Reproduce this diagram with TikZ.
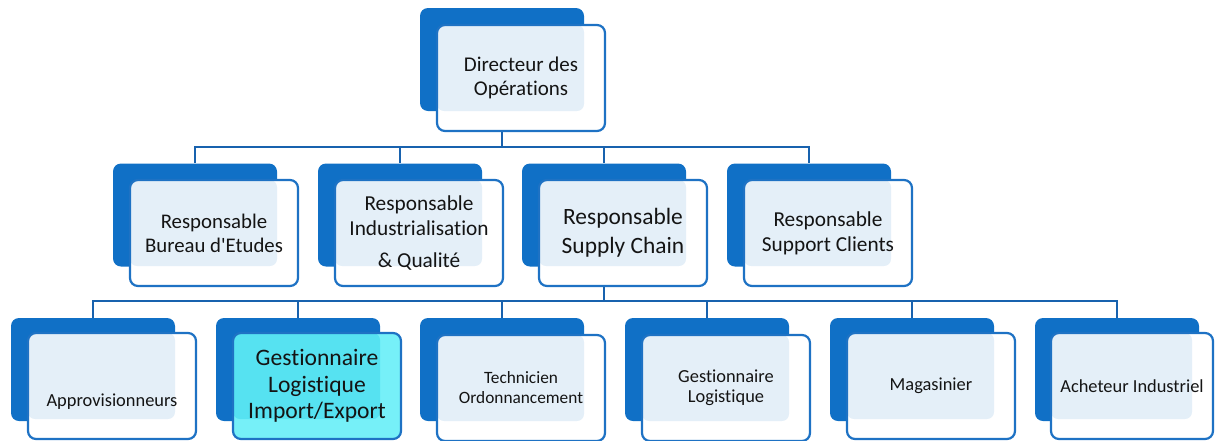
\documentclass[tikz,border=0pt]{standalone}
\usepackage{fontspec}
\setmainfont{Carlito}[Ligatures={NoCommon,NoContextual}]
\usetikzlibrary{positioning, calc}
\definecolor{orgblue}{RGB}{16,112,198}
\definecolor{edgeblue}{RGB}{30,114,196}
\definecolor{linkblue}{RGB}{24,98,174}
\definecolor{cyanin}{RGB}{86,226,241}
\definecolor{cyanout}{RGB}{118,240,248}
\pgfdeclarelayer{bg}
\pgfsetlayers{bg,main}

\begin{document}
\begin{tikzpicture}[
    x=1pt, y=-1pt,
    every node/.style={text=black!92},
    back/.style={fill=orgblue, rounded corners=8pt, minimum width=164pt, minimum height=103pt, inner sep=0pt},
    softfill/.style={fill=orgblue, fill opacity=0.11},
    frame/.style={draw=edgeblue, line width=2.2pt, fill=white, rounded corners=8pt,
        minimum width=168pt, minimum height=106pt, inner sep=0pt, align=center,
        path picture={\fill[softfill, rounded corners=7pt] (path picture bounding box.north west)
            rectangle ([shift={(-21pt,20pt)}]path picture bounding box.south east);}},
    link/.style={draw=linkblue, line width=2.5pt},
]
\useasboundingbox (0,0) rectangle (1215,440);

% ============================================================
% LEVEL 1: direction
% ============================================================
\node[back] (dir) at (502,59.5) {};
\node[frame, font=\fontsize{21}{24}\selectfont] (dirF) at (521,78) {Directeur des\\Opérations};

% ============================================================
% LEVEL 2: responsables
% ============================================================
\node[back] (bur) at (195,215) {};
\node[frame, font=\fontsize{20.8}{24}\selectfont] (burF) at (214,233) {Responsable\\Bureau d\textquotesingle Etudes};

\node[back] (ind) at (400,215) {};
\node[frame, font=\fontsize{21.3}{25}\selectfont] (indF) at (419,233) {Responsable\\Industrialisation\\[7pt]\& Qualité};

\node[back] (sup) at (604,215) {};
\node[frame, font=\fontsize{23.4}{29}\selectfont] (supF) at (623,233) {Responsable\\Supply Chain};

\node[back] (cli) at (809,215) {};
\node[frame, font=\fontsize{21.3}{25}\selectfont] (cliF) at (828,233) {Responsable\\Support Clients};

% ============================================================
% LEVEL 3: supply chain team
% ============================================================
\node[back] (apr) at (93,369.5) {};
\node[frame, font=\fontsize{18.4}{20}\selectfont, text height=44pt, text depth=4pt] (aprF) at (112,386) {Approvisionneurs};

% highlighted position
\node[back] (imp) at (298,369.5) {};
\node[frame, fill=cyanout, softfill/.style={fill=cyanin}, font=\fontsize{23.6}{26.5}\selectfont] (impF) at (317,386) {Gestionnaire\\Logistique\\Import/Export};

\node[back] (tec) at (502,369.5) {};
\node[frame, font=\fontsize{17.3}{20}\selectfont] (tecF) at (521,388) {Technicien\\Ordonnancement};

\node[back] (ges) at (707,369.5) {};
\node[frame, font=\fontsize{18.4}{20}\selectfont] (gesF) at (726,388) {Gestionnaire\\Logistique};

\node[back] (mag) at (912,369.5) {};
\node[frame, font=\fontsize{18.4}{20}\selectfont] (magF) at (931,386) {Magasinier};

\node[back] (ach) at (1117,369.5) {};
\node[frame, minimum width=162pt, font=\fontsize{18.4}{20}\selectfont] (achF) at (1132,386) {Acheteur Industriel};

% ============================================================
% Connectors (behind the boxes)
% ============================================================
\begin{pgfonlayer}{bg}
\coordinate (barA) at (502,147);
\foreach \c in {bur,ind,sup,cli}
    \draw[link] (dir.south) |- (barA) -| (\c.north);
\coordinate (barB) at (604,301);
\foreach \c in {apr,imp,tec,ges,mag,ach}
    \draw[link] (sup.south) |- (barB) -| (\c.north);
\end{pgfonlayer}

\end{tikzpicture}
\end{document}
